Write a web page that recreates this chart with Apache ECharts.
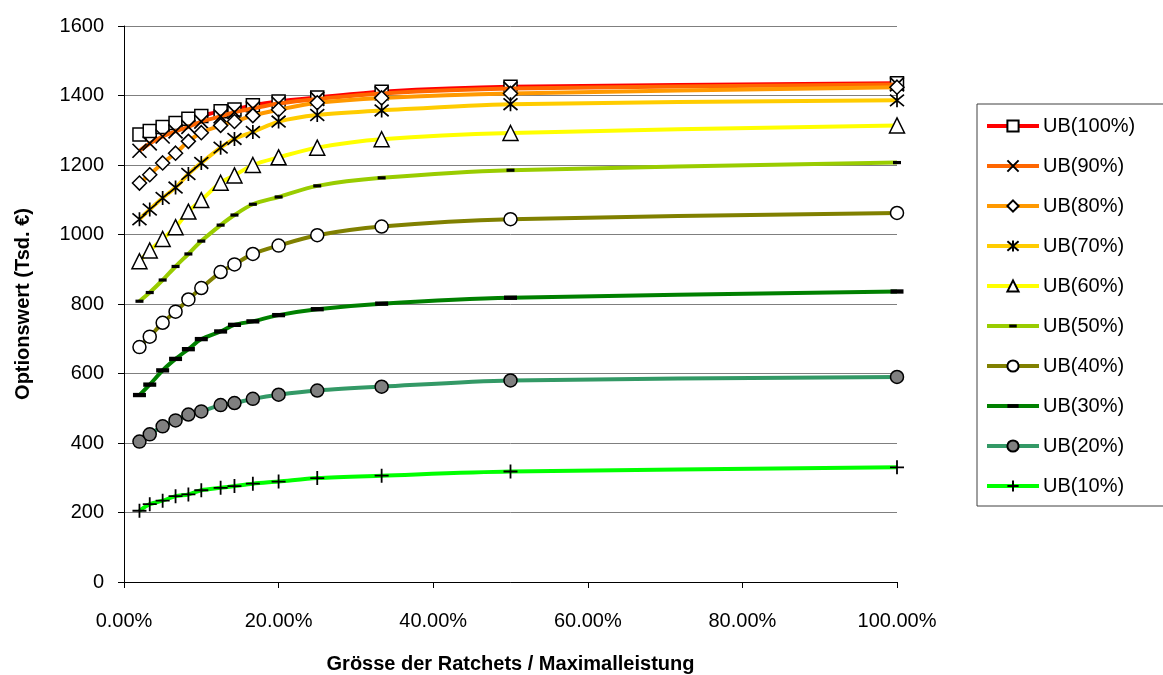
<!DOCTYPE html>
<html>
<head>
<meta charset="utf-8">
<script src="https://cdn.jsdelivr.net/npm/echarts@6/dist/echarts.min.js"></script>
<style>
  html, body { margin: 0; padding: 0; background: #fff; }
  #chart { width: 1163px; height: 675px; }
</style>
</head>
<body>
<div id="chart"></div>
<script>
// Ratchet size as share of maximum payout (%)
const ratchetSize = [2, 3.33, 5, 6.67, 8.33, 10, 12.5, 14.29, 16.67, 20, 25, 33.33, 50, 100];

// Option value (Tsd. €) per upper bound level
const ub100 = [1288, 1298, 1309, 1321, 1333, 1341, 1355, 1360, 1372, 1383, 1394, 1411, 1425, 1435];
const ub90  = [1241, 1262, 1282, 1297, 1310, 1325, 1340, 1352, 1363, 1377, 1390, 1406, 1420, 1432];
const ub80  = [1148, 1172, 1206, 1234, 1268, 1293, 1314, 1325, 1342, 1359, 1379, 1393, 1406, 1424];
const ub70  = [1044, 1072, 1105, 1135, 1174, 1206, 1250, 1275, 1295, 1325, 1344, 1357, 1375, 1386];
const ub60  = [923, 954, 987, 1021, 1066, 1099, 1149, 1170, 1200, 1222, 1250, 1274, 1292, 1314];
const ub50  = [808, 833, 869, 908, 944, 981, 1027, 1056, 1087, 1108, 1140, 1163, 1185, 1207];
const ub40  = [676, 706, 746, 778, 813, 846, 892, 914, 944, 968, 998, 1023, 1044, 1062];
const ub30  = [538, 568, 609, 642, 670, 699, 721, 740, 750, 768, 785, 801, 818, 836];
const ub20  = [404, 425, 448, 465, 482, 491, 509, 515, 527, 539, 551, 562, 580, 590];
const ub10  = [205, 224, 234, 247, 252, 264, 271, 276, 283, 289, 299, 306, 318, 330];

const seriesNames = ['UB(100%)', 'UB(90%)', 'UB(80%)', 'UB(70%)', 'UB(60%)', 'UB(50%)', 'UB(40%)', 'UB(30%)', 'UB(20%)', 'UB(10%)'];
const seriesValues = [ub100, ub90, ub80, ub70, ub60, ub50, ub40, ub30, ub20, ub10];
const lineColors = ['#FF0000', '#FF6600', '#FF9900', '#FFCC00', '#FFFF00', '#99CC00', '#808000', '#008000', '#339966', '#00FF00'];

const yTicks = { min: 0, max: 1600, step: 200 };
const xTicks = { min: 0, max: 100, step: 20 };

// Marker appearance for each series (dash paths carry an empty square frame
// so they keep their proportions inside the legend's square icon box)
const markers = [
  { symbol: 'rect', size: 13, fill: '#fff' },
  { symbol: 'path://M0,0L10,10M10,0L0,10', size: 14, fill: 'none', stroke: 1.7 },
  { symbol: 'diamond', size: 14, fill: '#fff' },
  { symbol: 'path://M0,0L10,10M10,0L0,10M5,-1L5,11', size: 14, fill: 'none', stroke: 1.7 },
  { symbol: 'triangle', size: 15, fill: '#fff' },
  { symbol: 'path://M0,0M12,12M2,4.4L10,4.4L10,7.6L2,7.6Z', size: 12, fill: '#000', stroke: 0 },
  { symbol: 'circle', size: 13, fill: '#fff' },
  { symbol: 'path://M0,0M12,12M0,4L12,4L12,8L0,8Z', size: 13, fill: '#000', stroke: 0 },
  { symbol: 'circle', size: 13, fill: '#808080' },
  { symbol: 'path://M5,0L5,10M0,5L10,5', size: 14, fill: 'none', stroke: 1.8 }
];

const FONT = '"Liberation Sans", Arial, sans-serif';

const series = seriesNames.map((name, i) => ({
  name: name,
  type: 'line',
  data: ratchetSize.map((x, j) => [x, seriesValues[i][j]]),
  smooth: 0.3,
  symbol: markers[i].symbol,
  symbolSize: markers[i].size,
  showAllSymbol: true,
  z: 2 + i,
  lineStyle: { color: lineColors[i], width: 4 },
  itemStyle: {
    color: markers[i].fill,
    borderColor: '#000',
    borderWidth: markers[i].stroke === undefined ? 1.5 : markers[i].stroke
  },
  emphasis: { disabled: true },
  animation: false
}));

const chart = echarts.init(document.getElementById('chart'), null, { renderer: 'canvas' });
chart.setOption({
  backgroundColor: '#ffffff',
  animation: false,
  textStyle: { fontFamily: FONT },
  grid: { left: 124, right: 266, top: 26, bottom: 93, containLabel: false, outerBoundsMode: 'none' },
  legend: {
    orient: 'vertical',
    left: 977,
    top: 104,
    width: 190,
    padding: [12, 30, 10, 8],
    itemWidth: 52,
    itemHeight: 14,
    itemGap: 20,
    borderColor: '#404040',
    borderWidth: 1,
    selectedMode: false,
    lineStyle: { width: 4 },
    textStyle: { fontSize: 20, color: '#000', fontFamily: FONT, padding: [0, 0, 0, -1] },
    data: seriesNames
  },
  xAxis: {
    type: 'value',
    min: xTicks.min,
    max: xTicks.max,
    interval: xTicks.step,
    name: 'Grösse der Ratchets / Maximalleistung',
    nameLocation: 'middle',
    nameGap: 72,
    nameTextStyle: { fontSize: 20, fontWeight: 'bold', color: '#000', fontFamily: FONT },
    axisLine: { lineStyle: { color: '#000', width: 1 } },
    axisTick: { show: true, length: 6, lineStyle: { color: '#000' } },
    axisLabel: {
      fontSize: 20, color: '#000', margin: 29,
      formatter: v => v.toFixed(2) + '%'
    },
    splitLine: { show: false }
  },
  yAxis: {
    type: 'value',
    min: yTicks.min,
    max: yTicks.max,
    interval: yTicks.step,
    name: 'Optionswert (Tsd. €)',
    nameLocation: 'middle',
    nameGap: 91,
    nameRotate: 90,
    nameTextStyle: { fontSize: 20, fontWeight: 'bold', color: '#000', fontFamily: FONT },
    axisLine: { show: true, lineStyle: { color: '#000', width: 1 } },
    axisTick: { show: true, length: 6, lineStyle: { color: '#000' } },
    axisLabel: { fontSize: 20, color: '#000', margin: 20, formatter: v => String(v) },
    splitLine: { show: true, lineStyle: { color: '#7f7f7f', width: 1 } }
  },
  series: series
});
</script>
</body>
</html>
